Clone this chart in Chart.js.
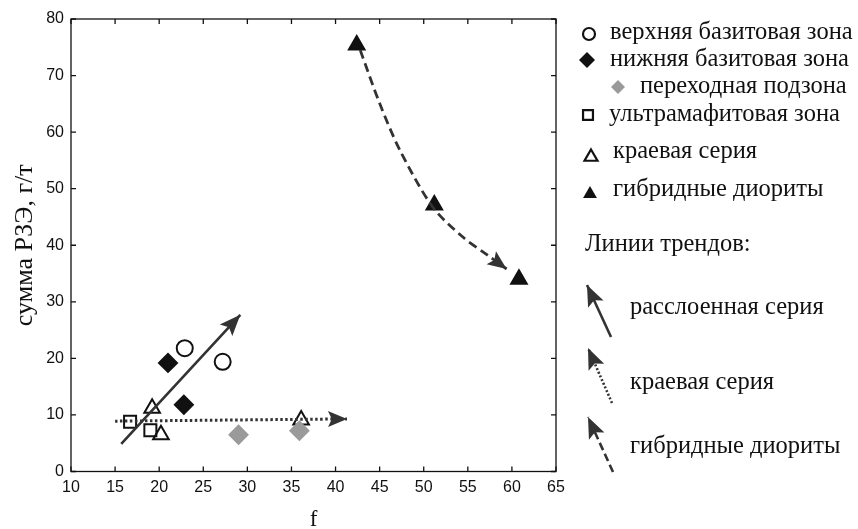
<!DOCTYPE html>
<html>
<head>
<meta charset="utf-8">
<script src="https://cdn.jsdelivr.net/npm/chart.js@4.4.0/dist/chart.umd.min.js"></script>
<style>
  html, body { margin: 0; padding: 0; background: #fff; }
  #wrap { width: 858px; height: 529px; }
</style>
</head>
<body>
<div id="wrap"><canvas id="chart"></canvas></div>
<script>
// Point data (f vs. сумма РЗЭ)
const upperBasite = [{ x: 22.9, y: 21.8 }, { x: 27.2, y: 19.4 }];
const lowerBasite = [{ x: 21.0, y: 19.2 }, { x: 22.8, y: 11.8 }];
const transitional = [{ x: 29.0, y: 6.5 }, { x: 35.9, y: 7.2 }];
const ultramafic = [{ x: 16.7, y: 8.8 }, { x: 19.0, y: 7.3 }];
const marginal = [{ x: 19.2, y: 11.2 }, { x: 20.2, y: 6.5 }, { x: 36.1, y: 9.1 }];
const diorites = [{ x: 42.4, y: 75.4 }, { x: 51.2, y: 47.1 }, { x: 60.8, y: 34.0 }];

// Trend lines (arrow ends at the last point)
const trendLayered = [{ x: 15.7, y: 4.9 }, { x: 29.2, y: 27.7 }];
const trendMarginal = [{ x: 15.0, y: 8.9 }, { x: 41.3, y: 9.3 }];
const trendDiorites = [
    { x: 42.8, y: 74.5 }, { x: 45.0, y: 65.1 }, { x: 47.3, y: 56.8 },
    { x: 51.0, y: 46.8 }, { x: 54.4, y: 41.5 }, { x: 57.2, y: 38.3 }, { x: 59.4, y: 35.8 }
];

const xTicks = [10, 15, 20, 25, 30, 35, 40, 45, 50, 55, 60, 65];
const yTicks = [0, 10, 20, 30, 40, 50, 60, 70, 80];

const seriesLabels = ['верхняя базитовая зона', 'нижняя базитовая зона', 'переходная подзона',
    'ультрамафитовая зона', 'краевая серия', 'гибридные диориты'];
const trendLabels = ['расслоенная серия', 'краевая серия', 'гибридные диориты'];
const trendTitle = 'Линии трендов:';
const xTitle = 'f';
const yTitle = 'сумма РЗЭ, г/т';

const ink = '#111';
const trendInk = '#333';
const grey = '#9a9a9a';
const serif = "'Liberation Serif', 'Times New Roman', serif";
const sans = "'Liberation Sans', Arial, sans-serif";

function marker(ctx, style, x, y, r, fill, stroke, lw) {
    ctx.save();
    ctx.beginPath();
    if (style === 'circle') {
        ctx.arc(x, y, r, 0, Math.PI * 2);
    } else if (style === 'rectRot') {
        ctx.moveTo(x, y - r); ctx.lineTo(x + r, y); ctx.lineTo(x, y + r); ctx.lineTo(x - r, y);
        ctx.closePath();
    } else if (style === 'rect') {
        const s = r * Math.SQRT1_2;
        ctx.rect(x - s, y - s, 2 * s, 2 * s);
    } else if (style === 'triangle') {
        for (let i = 0; i < 3; i++) {
            const a = i * 2 * Math.PI / 3;
            const px = x + Math.sin(a) * r, py = y - Math.cos(a) * r;
            if (i === 0) ctx.moveTo(px, py); else ctx.lineTo(px, py);
        }
        ctx.closePath();
    }
    if (fill) { ctx.fillStyle = fill; ctx.fill(); }
    if (stroke) { ctx.strokeStyle = stroke; ctx.lineWidth = lw; ctx.stroke(); }
    ctx.restore();
}

function arrowHead(ctx, x0, y0, x1, y1, len, half, color) {
    const a = Math.atan2(y1 - y0, x1 - x0);
    ctx.save();
    ctx.fillStyle = color;
    ctx.beginPath();
    ctx.moveTo(x1, y1);
    ctx.lineTo(x1 - len * Math.cos(a) + half * Math.sin(a), y1 - len * Math.sin(a) - half * Math.cos(a));
    ctx.lineTo(x1 - len * 0.8 * Math.cos(a), y1 - len * 0.8 * Math.sin(a));
    ctx.lineTo(x1 - len * Math.cos(a) - half * Math.sin(a), y1 - len * Math.sin(a) + half * Math.cos(a));
    ctx.closePath();
    ctx.fill();
    ctx.restore();
}

// Box frame with inward ticks on all four sides
const framePlugin = {
    id: 'frame',
    beforeDatasetsDraw(chart) {
        const { ctx, chartArea: a, scales: { x, y } } = chart;
        ctx.save();
        ctx.strokeStyle = ink;
        ctx.lineWidth = 1.3;
        ctx.strokeRect(a.left, a.top, a.right - a.left, a.bottom - a.top);
        ctx.beginPath();
        xTicks.forEach(v => {
            const px = x.getPixelForValue(v);
            ctx.moveTo(px, a.bottom); ctx.lineTo(px, a.bottom - 5);
            ctx.moveTo(px, a.top); ctx.lineTo(px, a.top + 5);
        });
        yTicks.forEach(v => {
            const py = y.getPixelForValue(v);
            ctx.moveTo(a.left, py); ctx.lineTo(a.left + 5, py);
            ctx.moveTo(a.right, py); ctx.lineTo(a.right - 5, py);
        });
        ctx.stroke();
        ctx.restore();
    }
};

// Arrow heads at the end of each trend dataset
const arrowPlugin = {
    id: 'arrows',
    afterDatasetsDraw(chart) {
        const ctx = chart.ctx;
        chart.data.datasets.forEach((ds, i) => {
            if (!ds.arrow) return;
            const pts = chart.getDatasetMeta(i).data;
            const p1 = pts[pts.length - 1], p0 = pts[pts.length - 2];
            arrowHead(ctx, p0.x, p0.y, p1.x, p1.y, ds.arrow[0], ds.arrow[1], trendInk);
        });
    }
};

// Legend on the right side
const legendPlugin = {
    id: 'sideLegend',
    afterDraw(chart) {
        const ctx = chart.ctx;
        const items = [
            { style: 'circle', mx: 589, my: 34, r: 6, fill: null, stroke: ink, tx: 610, ty: 33 },
            { style: 'rectRot', mx: 587, my: 60, r: 8, fill: ink, stroke: null, tx: 610, ty: 60 },
            { style: 'rectRot', mx: 618, my: 87, r: 7, fill: grey, stroke: null, tx: 640, ty: 87 },
            { style: 'rect', mx: 588, my: 115, r: 7, fill: null, stroke: ink, tx: 609, ty: 115 },
            { style: 'triangle', mx: 591, my: 157, r: 7.5, fill: null, stroke: ink, tx: 613, ty: 152 },
            { style: 'triangle', mx: 590, my: 194, r: 8, fill: ink, stroke: null, tx: 613, ty: 190 }
        ];
        ctx.save();
        ctx.font = '24.5px ' + serif;
        ctx.fillStyle = ink;
        ctx.textBaseline = 'middle';
        ctx.textAlign = 'left';
        items.forEach((it, i) => {
            marker(ctx, it.style, it.mx, it.my, it.r, it.fill, it.stroke, 2.2);
            ctx.fillText(seriesLabels[i], it.tx, it.ty);
        });
        ctx.fillText(trendTitle, 585, 245);

        const arrows = [
            { x0: 611, y0: 337, x1: 587, y1: 285, dash: [], ty: 308 },
            { x0: 612, y0: 403, x1: 588, y1: 348, dash: [2, 2], ty: 383 },
            { x0: 613, y0: 472, x1: 588, y1: 417, dash: [8, 4], ty: 447 }
        ];
        arrows.forEach((ar, i) => {
            ctx.save();
            ctx.strokeStyle = trendInk;
            ctx.lineWidth = 2.6;
            ctx.setLineDash(ar.dash);
            ctx.beginPath();
            ctx.moveTo(ar.x0, ar.y0);
            ctx.lineTo(ar.x1, ar.y1);
            ctx.stroke();
            ctx.restore();
            arrowHead(ctx, ar.x0, ar.y0, ar.x1, ar.y1, 21, 8.5, trendInk);
            ctx.fillText(trendLabels[i], 630, ar.ty);
        });
        ctx.restore();
    }
};

const pointSet = (label, data, style, radius, fill, stroke) => ({
    type: 'scatter',
    label,
    data,
    pointStyle: style,
    pointRadius: radius,
    pointHoverRadius: radius,
    backgroundColor: fill,
    borderColor: stroke,
    borderWidth: 2,
    showLine: false
});

const trendSet = (data, dash, width, arrow) => ({
    type: 'line',
    data,
    borderColor: trendInk,
    borderWidth: width,
    borderDash: dash,
    pointRadius: 0,
    tension: 0.3,
    fill: false,
    arrow
});

const ctx = document.getElementById('chart').getContext('2d');
new Chart(ctx, {
    data: {
        datasets: [
            trendSet(trendLayered, [], 2.6, [21, 8.5]),
            trendSet(trendMarginal, [2.5, 2.5], 3, [19, 8]),
            trendSet(trendDiorites, [9, 5], 2.8, [19, 8]),
            pointSet(seriesLabels[0], upperBasite, 'circle', 8, 'rgba(0,0,0,0)', ink),
            pointSet(seriesLabels[1], lowerBasite, 'rectRot', 9, ink, ink),
            pointSet(seriesLabels[2], transitional, 'rectRot', 9, grey, grey),
            pointSet(seriesLabels[3], ultramafic, 'rect', 8.5, 'rgba(0,0,0,0)', ink),
            pointSet(seriesLabels[4], marginal, 'triangle', 9, 'rgba(0,0,0,0)', ink),
            pointSet(seriesLabels[5], diorites, 'triangle', 9, ink, ink)
        ]
    },
    options: {
        responsive: true,
        maintainAspectRatio: false,
        animation: false,
        layout: { padding: { top: 19, right: 302, left: 0, bottom: 0 } },
        plugins: {
            legend: { display: false },
            tooltip: { enabled: false }
        },
        scales: {
            x: {
                type: 'linear',
                min: 10,
                max: 65,
                afterBuildTicks: s => { s.ticks = xTicks.map(v => ({ value: v })); },
                afterFit: s => { s.height = 57.5; },
                grid: { display: false, drawTicks: false },
                border: { display: false },
                ticks: { color: ink, font: { family: sans, size: 16 }, padding: 6, maxRotation: 0 },
                title: {
                    display: true, text: xTitle, color: ink,
                    font: { family: serif, size: 23, lineHeight: 0.82 },
                    padding: { top: 0, bottom: 0 }
                }
            },
            y: {
                type: 'linear',
                min: 0,
                max: 80,
                afterBuildTicks: s => { s.ticks = yTicks.map(v => ({ value: v })); },
                afterFit: s => { s.width = 71; },
                grid: { display: false, drawTicks: false },
                border: { display: false },
                ticks: { color: ink, font: { family: sans, size: 16 }, padding: 7 },
                title: {
                    display: true, text: yTitle, color: ink,
                    font: { family: serif, size: 26, lineHeight: 1.2 },
                    padding: { top: 10, bottom: 0 }
                }
            }
        }
    },
    plugins: [framePlugin, arrowPlugin, legendPlugin]
});
</script>
</body>
</html>
